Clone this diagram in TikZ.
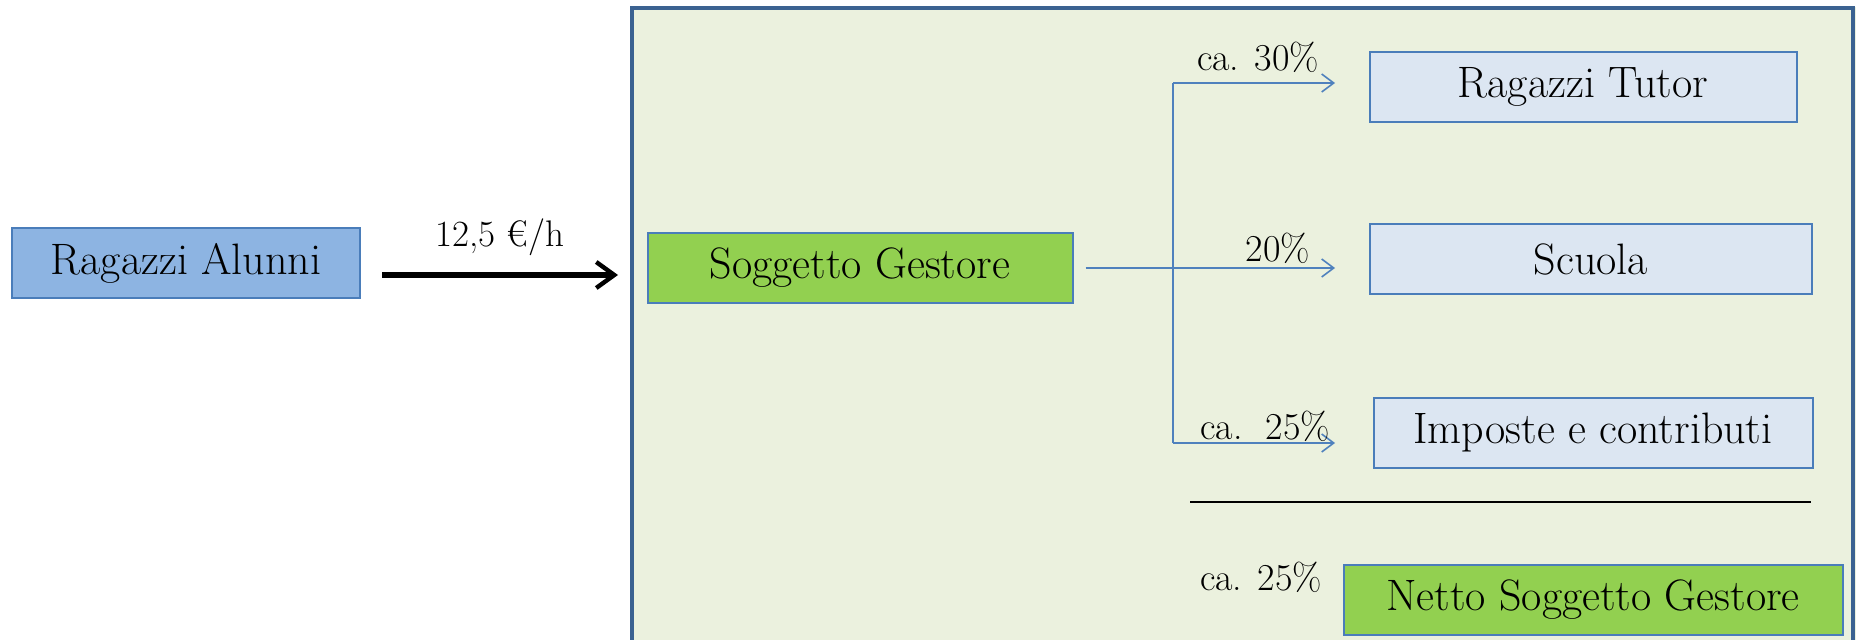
\documentclass[tikz,border=0pt]{standalone}
\usepackage{fontspec}
\usetikzlibrary{arrows.meta}

\definecolor{alunniblue}{HTML}{8DB4E2}
\definecolor{boxborder}{HTML}{4A7DBA}
\definecolor{gestgreen}{HTML}{92D050}
\definecolor{quotablue}{HTML}{DCE6F2}
\definecolor{panelfill}{HTML}{EBF1DE}
\definecolor{panelborder}{HTML}{3B6291}
\definecolor{flowblue}{HTML}{4F81BD}

\begin{document}
\begin{tikzpicture}[x=0.5pt, y=-0.5pt,
            rect box/.style={rectangle, draw=boxborder, line width=1pt, inner sep=2pt, minimum height=35pt},
            alunni box/.style={rect box, fill=alunniblue},
            gestore box/.style={rect box, fill=gestgreen},
            quota box/.style={rect box, fill=quotablue},
            pct/.style={font=\fontsize{19}{23}\selectfont},
            flow/.style={draw=flowblue, line width=0.8pt},
            flow arrow/.style={flow, -{Straight Barb[length=6pt,width=9pt]}},
            big arrow/.style={line width=2.6pt, -{Straight Barb[length=9pt,width=13pt,line width=2.2pt]}},
            every node/.style={align=center, font=\fontsize{22}{26}\selectfont}
    ]
        \useasboundingbox (0,0) rectangle (1856,640);

        % Panel of the Soggetto Gestore
        \fill[panelfill] (631,7) rectangle (1856,640);
        \draw[panelborder, line width=2.2pt] (632,640) -- (632,8) -- (1853,8) -- (1853,640);

        % Boxes
        \node[alunni box, minimum width=174pt] (alunni) at (186,263) {Ragazzi Alunni};
        \node[gestore box, minimum width=212.5pt] (gestore) at (860,268) {Soggetto Gestore};

        \node[quota box, minimum width=213.5pt] (tutor) at (1583,87) {Ragazzi Tutor};
        \node[quota box, minimum width=221pt] (scuola) at (1591,259) {Scuola};
        \node[quota box, minimum width=219.5pt] (imposte) at (1593,433) {Imposte e contributi};
        \node[gestore box, minimum width=249.5pt] (netto) at (1593,600) {Netto Soggetto Gestore};

        % Payment
        \coordinate (gest_in) at (618,275);
        \draw[big arrow] ([xshift=10.5pt,yshift=-6pt]alunni.east) -- (gest_in)
            node[pos=0.5, above=5pt, font=\fontsize{18.5}{22}\selectfont] (tariffa) {12,5 €/h};

        % Split
        \coordinate (fork) at (1173,268);
        \coordinate (tip_tutor) at (1335,83);
        \coordinate (tip_scuola) at (1335,268);
        \coordinate (tip_imposte) at (1335,443);

        \draw[flow arrow] ([xshift=6pt]gestore.east) -- (tip_scuola);
        \draw[flow] (fork |- tip_tutor) -- (fork |- tip_imposte);
        \draw[flow arrow] (fork |- tip_tutor) -- (tip_tutor);
        \draw[flow arrow] (fork |- tip_imposte) -- (tip_imposte);

        \node[pct] (pct_tutor) at (1258,57) {ca. 30\%};
        \node[pct] (pct_scuola) at (1278,248) {20\%};
        \node[pct] (pct_imposte) at (1265,426) {ca.\ \ 25\%};

        % Remainder
        \draw[line width=0.9pt] (1190,502) -- (1811,502);
        \node[pct] (pct_netto) at (1261,577) {ca. 25\%};

    \end{tikzpicture}
\end{document}
